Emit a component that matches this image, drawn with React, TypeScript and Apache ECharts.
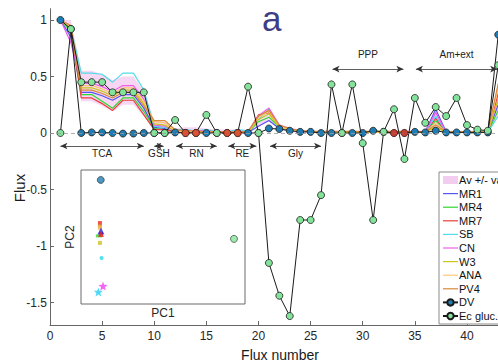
import React, { useEffect, useRef } from "react";
import * as echarts from "echarts";

const FONT = "'Liberation Sans', Arial, Helvetica, sans-serif";

// Flux numbers (x)
const fluxNumbers = [1, 2, 3, 4, 5, 6, 7, 8, 9, 10, 11, 12, 13, 14, 15, 16, 17, 18, 19, 20, 21, 22, 23, 24, 25, 26, 27, 28, 29, 30, 31, 32, 33, 34, 35, 36, 37, 38, 39, 40, 41, 42, 43];

// Measured / reference series
const dvValues = [1.0, 0.92, 0, 0.005, 0.005, 0, -0.005, -0.005, 0, 0, 0, 0.005, 0, 0, 0, 0, 0, 0, 0, 0, 0.04, 0.035, 0.02, 0.01, 0.01, 0, 0, 0, 0, 0, 0.02, 0.01, 0, 0, 0.01, 0.005, 0.02, 0.005, 0.005, 0.005, 0.005, 0.005, 0.87];
const ecGlucValues = [0, 0.92, 0.45, 0.45, 0.45, 0.36, 0.36, 0.36, 0.36, 0, 0, 0.115, 0, 0, 0.16, 0, 0, 0, 0.41, 0, -1.15, -1.44, -1.62, -0.77, -0.77, -0.55, 0.43, 0, 0.43, -0.09, -0.77, 0.01, 0.21, -0.23, 0.31, 0.09, 0.23, 0.15, 0.31, 0.07, 0.03, 0.02, 0.6];
const redFluxes = [13, 14, 17, 18, 33, 34];

// Model series
const mr1 = [1, 0.85, 0.36, 0.36, 0.33, 0.29, 0.34, 0.34, 0.22, 0.05, 0.04, 0.01, 0.01, 0.01, 0.01, 0.005, 0.005, 0.005, 0.005, 0.06, 0.11, 0.04, 0.03, 0.02, 0.01, 0.01, 0.005, 0.005, 0.005, 0.005, 0.005, 0.005, 0.005, 0.005, 0.01, 0.01, 0.21, 0.01, 0.005, 0.005, 0.005, 0.005, 0.25];
const mr4 = [1, 0.9, 0.34, 0.34, 0.28, 0.22, 0.31, 0.31, 0.19, 0.04, 0.03, 0.01, 0.01, 0.01, 0.01, 0.005, 0.005, 0.005, 0.005, 0.1, 0.14, 0.05, 0.03, 0.02, 0.01, 0.01, 0.005, 0.005, 0.005, 0.005, 0.005, 0.005, 0.005, 0.005, 0.01, 0.01, 0.11, 0.01, 0.005, 0.005, 0.005, 0.005, 0.2];
const mr7 = [1, 0.93, 0.31, 0.31, 0.26, 0.2, 0.29, 0.29, 0.16, 0.03, 0.03, 0.01, 0.01, 0.01, 0.01, 0.005, 0.005, 0.005, 0.005, 0.16, 0.18, 0.06, 0.03, 0.02, 0.01, 0.01, 0.005, 0.005, 0.005, 0.005, 0.005, 0.005, 0.005, 0.005, 0.01, 0.01, 0.13, 0.01, 0.005, 0.005, 0.005, 0.005, 0.35];
const sb = [1, 0.93, 0.53, 0.53, 0.52, 0.45, 0.53, 0.53, 0.38, 0.06, 0.05, 0.03, 0.03, 0.02, 0.03, 0.01, 0.01, 0.03, 0.02, 0.12, 0.21, 0.06, 0.03, 0.02, 0.01, 0.01, 0.005, 0.005, 0.005, 0.005, 0.005, 0.005, 0.005, 0.005, 0.01, 0.01, 0.15, 0.01, 0.005, 0.005, 0.005, 0.005, 0.15];
const cn = [1, 0.8, 0.44, 0.44, 0.41, 0.37, 0.42, 0.42, 0.3, 0.07, 0.06, 0.02, 0.02, 0.02, 0.02, 0.01, 0.01, 0.01, 0.01, 0.15, 0.22, 0.07, 0.03, 0.02, 0.01, 0.01, 0.005, 0.005, 0.005, 0.005, 0.005, 0.005, 0.005, 0.005, 0.01, 0.01, 0.18, 0.01, 0.005, 0.005, 0.005, 0.005, 0.3];
const w3 = [1, 0.92, 0.4, 0.4, 0.37, 0.33, 0.38, 0.38, 0.26, 0.08, 0.07, 0.02, 0.01, 0.01, 0.01, 0.005, 0.005, 0.005, 0.005, 0.12, 0.17, 0.05, 0.03, 0.02, 0.01, 0.01, 0.005, 0.005, 0.005, 0.005, 0.005, 0.005, 0.005, 0.005, 0.01, 0.01, 0.05, 0.01, 0.005, 0.005, 0.005, 0.005, 0.3];
const ana = [1, 0.94, 0.42, 0.42, 0.39, 0.35, 0.4, 0.4, 0.28, 0.1, 0.09, 0.02, 0.01, 0.01, 0.01, 0.005, 0.005, 0.005, 0.005, 0.14, 0.19, 0.06, 0.03, 0.02, 0.01, 0.01, 0.01, 0.01, 0.01, 0.01, 0.01, 0.01, 0.01, 0.01, 0.01, 0.01, 0.09, 0.01, 0.005, 0.005, 0.005, 0.005, 0.4];
const pv4 = [1, 0.95, 0.38, 0.38, 0.35, 0.31, 0.36, 0.36, 0.24, 0.11, 0.11, 0.03, 0.02, 0.02, 0.01, 0.01, 0.01, 0.01, 0.01, 0.15, 0.2, 0.07, 0.04, 0.02, 0.015, 0.015, 0.015, 0.015, 0.015, 0.015, 0.015, 0.015, 0.015, 0.015, 0.01, 0.01, 0.07, 0.01, 0.01, 0.01, 0.01, 0.01, 0.44];

// Average +/- variance band
const bandLow = [1, 0.82, 0.28, 0.28, 0.24, 0.19, 0.25, 0.25, 0.15, 0.02, 0.02, 0, 0, 0, 0, 0, 0, 0, 0, 0.06, 0.1, 0.03, 0.01, 0, 0, 0, 0, 0, 0, 0, 0, 0, 0, 0, 0, 0, 0.04, 0, 0, 0, 0, 0, 0.15];
const bandHigh = [1, 1.0, 0.55, 0.55, 0.52, 0.47, 0.5, 0.5, 0.37, 0.11, 0.1, 0.04, 0.05, 0.05, 0.04, 0.03, 0.03, 0.03, 0.03, 0.17, 0.23, 0.08, 0.05, 0.03, 0.02, 0.02, 0.02, 0.02, 0.02, 0.02, 0.02, 0.02, 0.02, 0.02, 0.02, 0.02, 0.22, 0.02, 0.02, 0.02, 0.02, 0.02, 0.45];

// Pathway annotations
const pathwayLabels = ["TCA", "GSH", "RN", "RE", "Gly", "PPP", "Am+ext"];
const pathwayFrom = [1, 10, 12.1, 17.1, 21.1, 27.1, 35.1];
const pathwayTo = [9, 10.9, 16, 19.8, 26, 33.9, 42.9];
const pathwayLevel = [-0.115, -0.115, -0.115, -0.115, -0.115, 0.566, 0.566];

// Tick labels
const xTicks = [0, 5, 10, 15, 20, 25, 30, 35, 40];
const yTicks = [-1.5, -1, -0.5, 0, 0.5, 1];

// Inset PCA (PC1, PC2)
const pcaDV = [[0.62, 4.19]];
const pcaEc = [[7.16, 1.99]];
const pcaMR1 = [[0.63, 2.28]];
const pcaMR4 = [[0.53, 2.1]];
const pcaMR7 = [[0.58, 2.58], [0.63, 2.17]];
const pcaSB = [[0.66, 1.28]];
const pcaSBstar = [[0.5, 0.01]];
const pcaCNstar = [[0.73, 0.23]];
const pcaW3 = [[0.58, 1.84]];
const pcaANA = [[0.58, 2.4]];
const pcaPV4 = [[0.58, 2.47]];
const pc1Ticks = [0, 1, 2, 3, 4, 5, 6, 7];
const pc2Ticks = [0, 1, 2, 3, 4];

const STAR = "path://M12,1 L14.9,8.6 L23,9 L16.7,14.2 L18.9,22 L12,17.6 L5.1,22 L7.3,14.2 L1,9 L9.1,8.6 Z";
const LINE_ICON = "path://M0,0 L30,0 L30,2.4 L0,2.4 Z";

const models = [
  { name: "MR1", color: "#5656f2", values: mr1 },
  { name: "MR4", color: "#2fd82f", values: mr4 },
  { name: "MR7", color: "#ec3c3c", values: mr7 },
  { name: "SB", color: "#52dbe8", values: sb },
  { name: "CN", color: "#ec5fec", values: cn },
  { name: "W3", color: "#c8c814", values: w3 },
  { name: "ANA", color: "#ffc870", values: ana },
  { name: "PV4", color: "#d7893a", values: pv4 },
];

const BAND_COLOR = "#f6d6f3";

const pair = (vals: number[]) => fluxNumbers.map((x, i) => [x, vals[i]]);

function buildOption(): any {
  const series: any[] = [];

  series.push({
    name: "Av +/- var",
    type: "custom",
    xAxisIndex: 0,
    yAxisIndex: 0,
    silent: true,
    z: 1,
    itemStyle: { color: BAND_COLOR },
    data: fluxNumbers.map((x, i) => [x, bandLow[i], bandHigh[i]]),
    encode: { x: 0, y: [1, 2] },
    renderItem: (params: any, api: any) => {
      if (params.dataIndex !== 0) return null;
      const top = fluxNumbers.map((x, i) => api.coord([x, bandHigh[i]]));
      const bot = fluxNumbers.map((x, i) => api.coord([x, bandLow[i]])).reverse();
      return {
        type: "polygon",
        shape: { points: top.concat(bot) },
        style: { fill: BAND_COLOR, stroke: "none" },
      };
    },
  });

  series.push({
    name: "annotations",
    type: "line",
    xAxisIndex: 0,
    yAxisIndex: 0,
    data: pair(bandLow),
    symbol: "none",
    lineStyle: { opacity: 0 },
    silent: true,
    z: 1,
    markLine: {
      silent: true,
      animation: false,
      symbol: ["arrow", "arrow"],
      symbolSize: [5, 7],
      lineStyle: { color: "#333", width: 0.8, type: "solid" },
      label: {
        show: true,
        formatter: "{b}",
        fontSize: 10,
        color: "#222",
        fontFamily: FONT,
      },
      data: [
        [
          { coord: [0, 0], symbol: "none", lineStyle: { type: [4, 3], color: "#9a9a9a", width: 0.8 }, label: { show: false } },
          { coord: [45, 0], symbol: "none" },
        ],
        ...pathwayLabels.map((name, i) => [
          {
            name,
            coord: [pathwayFrom[i], pathwayLevel[i]],
            label: {
              position: pathwayLevel[i] < 0 ? "insideMiddleBottom" : "insideMiddleTop",
              distance: pathwayLevel[i] < 0 ? 3 : 10,
            },
          },
          { coord: [pathwayTo[i], pathwayLevel[i]] },
        ]),
      ],
    },
  });

  models.forEach((m) => {
    series.push({
      name: m.name,
      type: "line",
      xAxisIndex: 0,
      yAxisIndex: 0,
      data: pair(m.values),
      symbol: "none",
      lineStyle: { color: m.color, width: 1.2 },
      itemStyle: { color: m.color },
      z: 2,
    });
  });

  series.push({
    name: "DV",
    type: "line",
    xAxisIndex: 0,
    yAxisIndex: 0,
    data: pair(dvValues),
    symbol: "circle",
    symbolSize: 7,
    showSymbol: true,
    lineStyle: { color: "#1a1a1a", width: 1 },
    itemStyle: { color: "#1f7db4", borderColor: "#1a1a1a", borderWidth: 0.8 },
    z: 3,
  });

  series.push({
    name: "Ec gluc.",
    type: "line",
    xAxisIndex: 0,
    yAxisIndex: 0,
    data: pair(ecGlucValues),
    symbol: "circle",
    symbolSize: 7,
    showSymbol: true,
    lineStyle: { color: "#1a1a1a", width: 1 },
    itemStyle: { color: "#84e39a", borderColor: "#1a1a1a", borderWidth: 0.8 },
    z: 4,
  });

  series.push({
    name: "DV unmeasured",
    type: "scatter",
    xAxisIndex: 0,
    yAxisIndex: 0,
    data: redFluxes.map((f) => [f, dvValues[fluxNumbers.indexOf(f)]]),
    symbol: "circle",
    symbolSize: 7,
    itemStyle: { color: "#e8321c", borderColor: "#5a1a10", borderWidth: 0.6 },
    z: 5,
  });

  const inset = (name: string, data: number[][], symbol: string, size: any, color: string, border?: string) => ({
    name,
    type: "scatter",
    xAxisIndex: 1,
    yAxisIndex: 1,
    data,
    symbol,
    symbolSize: size,
    itemStyle: border ? { color, borderColor: border, borderWidth: 0.7 } : { color },
    z: 6,
  });

  series.push(inset("pca MR7", pcaMR7, "rect", 4, "#ec2a1a"));
  series.push(inset("pca PV4", pcaPV4, "rect", 4, "#d7893a"));
  series.push(inset("pca ANA", pcaANA, "rect", 4, "#ffb640"));
  series.push(inset("pca MR4", pcaMR4, "rect", [6, 3], "#2fd82f"));
  series.push(inset("pca MR1", pcaMR1, "triangle", 7, "#2020e0"));
  series.push(inset("pca MR7 tri", [pcaMR7[1]], "triangle", 6, "#ec2a1a"));
  series.push(inset("pca W3", pcaW3, "rect", 4, "#d0c020"));
  series.push(inset("pca SB", pcaSB, "circle", 4, "#22d8f0"));
  series.push(inset("pca CN", pcaCNstar, STAR, 9, "#f040f0"));
  series.push(inset("pca SB star", pcaSBstar, STAR, 9, "#22d0f5"));
  series.push(inset("pca DV", pcaDV, "circle", 7, "#1f7db4", "#1a1a1a"));
  series.push(inset("pca Ec", pcaEc, "circle", 7, "#84e39a", "#1a1a1a"));

  const insetAxisCommon = {
    gridIndex: 1,
    type: "value",
    axisLine: { show: false },
    axisLabel: { show: false },
    splitLine: { show: false },
  };

  return {
    animation: false,
    backgroundColor: "#ffffff",
    textStyle: { fontFamily: FONT },
    grid: [
      { left: 50, top: 8.7, width: 469.1, height: 316.4, containLabel: false, outerBoundsMode: "none" },
      { left: 81, top: 170, width: 164, height: 134, show: true, backgroundColor: "#ffffff", borderColor: "#6a6a6a", borderWidth: 1, z: 5, containLabel: false, outerBoundsMode: "none" },
    ],
    xAxis: [
      {
        gridIndex: 0,
        type: "value",
        min: 0,
        max: 45,
        interval: 5,
        axisLine: { onZero: false, lineStyle: { color: "#666", width: 1 } },
        axisTick: { inside: true, length: 4, customValues: xTicks, lineStyle: { color: "#666" } },
        axisLabel: { customValues: xTicks, color: "#262626", fontSize: 12, margin: 5, fontFamily: FONT },
        splitLine: { show: false },
      },
      { ...insetAxisCommon, position: "bottom", min: -0.35, max: 7.7, axisTick: { inside: true, length: 3, customValues: pc1Ticks, lineStyle: { color: "#6a6a6a" } } },
      { ...insetAxisCommon, position: "top", min: -0.35, max: 7.7, axisTick: { inside: true, length: 3, customValues: pc1Ticks, lineStyle: { color: "#6a6a6a" } } },
    ],
    yAxis: [
      {
        gridIndex: 0,
        type: "value",
        min: -1.7,
        max: 1.1,
        axisLine: { show: true, onZero: false, lineStyle: { color: "#666", width: 1 } },
        axisTick: { show: true, inside: true, length: 4, customValues: yTicks, lineStyle: { color: "#666" } },
        axisLabel: { customValues: yTicks, color: "#262626", fontSize: 12, margin: 3, fontFamily: FONT, formatter: (v: number) => String(v) },
        splitLine: { show: false },
      },
      { ...insetAxisCommon, position: "left", min: -0.44, max: 4.56, axisTick: { inside: true, length: 3, customValues: pc2Ticks, lineStyle: { color: "#6a6a6a" } } },
      { ...insetAxisCommon, position: "right", min: -0.44, max: 4.56, axisTick: { inside: true, length: 3, customValues: pc2Ticks, lineStyle: { color: "#6a6a6a" } } },
    ],
    legend: {
      orient: "vertical",
      left: 439,
      top: 172,
      padding: [2, 6, 2, 3],
      itemWidth: 15,
      itemHeight: 8,
      itemGap: 1.6,
      backgroundColor: "#ffffff",
      borderColor: "#8a8a8a",
      borderWidth: 1,
      borderRadius: 0,
      textStyle: { fontSize: 11, lineHeight: 12, color: "#111", fontFamily: FONT, padding: [0, 0, 0, -4] },
      z: 10,
      data: [
        { name: "Av +/- var", icon: "rect", itemStyle: { color: "#f3cdf0" } },
        ...models.map((m) => ({ name: m.name, icon: LINE_ICON, itemStyle: { color: m.color } })),
        "DV",
        "Ec gluc.",
      ],
    },
    graphic: [
      { type: "text", left: 262, top: 1, z: 20, style: { text: "a", fontSize: 35, fill: "#3e3e86", fontFamily: FONT } },
      { type: "text", x: 19, y: 188, rotation: Math.PI / 2, style: { text: "Flux", fontSize: 15, fill: "#1a1a1a", fontFamily: FONT, align: "center", verticalAlign: "middle" } },
      { type: "text", x: 280, y: 355, style: { text: "Flux number", fontSize: 14, fill: "#1a1a1a", fontFamily: FONT, align: "center", verticalAlign: "middle" } },
      { type: "text", x: 163, y: 313, z: 20, style: { text: "PC1", fontSize: 12, fill: "#262626", fontFamily: FONT, align: "center", verticalAlign: "middle" } },
      { type: "text", x: 70, y: 237, rotation: Math.PI / 2, z: 20, style: { text: "PC2", fontSize: 12, fill: "#262626", fontFamily: FONT, align: "center", verticalAlign: "middle" } },
    ],
    series,
  };
}

export default function App() {
  const ref = useRef<HTMLDivElement>(null);
  useEffect(() => {
    if (!ref.current) return;
    const chart = echarts.init(ref.current, undefined, { renderer: "svg" });
    chart.setOption(buildOption());
    return () => chart.dispose();
  }, []);
  return (
    <div
      ref={ref}
      style={{ position: "fixed", left: 0, top: 0, width: 498, height: 364, background: "#fff", overflow: "hidden" }}
    />
  );
}
